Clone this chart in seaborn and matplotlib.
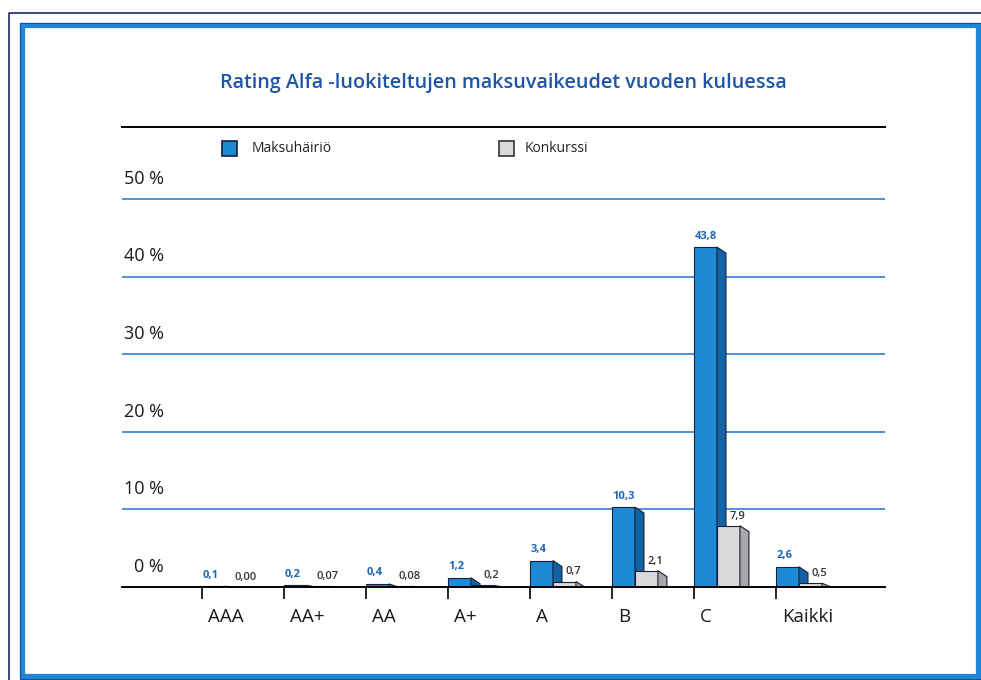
import numpy as np
import pandas as pd
import matplotlib
matplotlib.use("Agg")
import matplotlib.pyplot as plt
import matplotlib.transforms as mtransforms
from matplotlib.patches import Rectangle, Polygon
from matplotlib.lines import Line2D
import seaborn as sns

# ---------------- data ----------------
categories = ["AAA", "AA+", "AA", "A+", "A", "B", "C", "Kaikki"]
series = ["Maksuhäiriö", "Konkurssi"]
maksuhairio = [0.1, 0.2, 0.4, 1.2, 3.4, 10.3, 43.8, 2.6]
konkurssi = [0.00, 0.07, 0.08, 0.2, 0.7, 2.1, 7.9, 0.5]
konkurssi_labels = ["0,00", "0,07", "0,08", "0,2", "0,7", "2,1", "7,9", "0,5"]
yticks = [0, 10, 20, 30, 40, 50]
ytick_labels = ["0 %", "10 %", "20 %", "30 %", "40 %", "50 %"]
title = "Rating Alfa -luokiteltujen maksuvaikeudet vuoden kuluessa"

# ---------------- style ----------------
sns.set_theme(style="white")
plt.rcParams["font.family"] = ["Open Sans", "DejaVu Sans"]

BLUE = "#1e8ad6"
BLUE_SIDE = "#1462a6"
GREY = "#d9d9d9"
GREY_SIDE = "#a8a8a8"
EDGE = "#15203a"
GRID = "#2f7fcf"
TITLE_C = "#1d55a8"
VAL_BLUE = "#1f66b8"

W, H = 981, 680
fig = plt.figure(figsize=(W / 100, H / 100), dpi=100)
fig.patch.set_facecolor("white")

def fx(px):
    return px / W

def fy(py):
    return 1 - py / H

# axes: left 122px, right 885px, top 127px, bottom 587px
ax = fig.add_axes([fx(122), fy(587), (885 - 122) / W, (587 - 127) / H])
ax.set_facecolor("none")

df = pd.DataFrame({
    "Luokka": categories * 2,
    "Sarja": [series[0]] * len(categories) + [series[1]] * len(categories),
    "Osuus": maksuhairio + konkurssi,
})

bar_w = 0.56
sns.barplot(data=df, x="Luokka", y="Osuus", hue="Sarja", order=categories,
            hue_order=series, palette=[BLUE, GREY], width=bar_w, saturation=1,
            errorbar=None, edgecolor=EDGE, linewidth=0.8, legend=False, ax=ax)

px_per_unit = 82.0
px_per_pct = 7.76
xlim = ((122 - 202) / px_per_unit - bar_w / 2, (885 - 202) / px_per_unit - bar_w / 2)
ax.set_xlim(*xlim)
ax.set_ylim(0, (587 - 127) / px_per_pct)

dx = 9 / px_per_unit
dy = 6 / px_per_pct

side_cols = [BLUE_SIDE, GREY_SIDE]
for k, cont in enumerate(ax.containers):
    for p in cont.patches:
        p.set_zorder(2 + k)
        xr = p.get_x() + p.get_width()
        top = p.get_height()
        poly = Polygon([(xr, top), (xr + dx, max(top - dy, 0)), (xr + dx, 0), (xr, 0)],
                       closed=True, facecolor=side_cols[k], edgecolor=EDGE,
                       linewidth=0.8, zorder=2.5 + k)
        ax.add_patch(poly)

# value labels
blue_patches = ax.containers[0].patches
grey_patches = ax.containers[1].patches
for p, v in zip(blue_patches, maksuhairio):
    ax.annotate(f"{v:.1f}".replace(".", ","), (p.get_x(), p.get_height()),
                xytext=(0.5, 4), textcoords="offset points", ha="left", va="bottom",
                fontsize=8, fontweight="bold", color=VAL_BLUE, zorder=6)
for p, lab in zip(grey_patches, konkurssi_labels):
    ax.annotate(lab, (p.get_x() + p.get_width() - 0.03, p.get_height()),
                xytext=(0, 3), textcoords="offset points", ha="center", va="bottom",
                fontsize=8, fontweight="semibold", color="#333333", zorder=6)

# gridlines
for t in yticks[1:]:
    ax.axhline(t, color=GRID, linewidth=1.2, zorder=1)

# y labels above lines, right aligned at 164px
ytrans = mtransforms.blended_transform_factory(ax.transAxes, ax.transData)
for t, lab in zip(yticks, ytick_labels):
    ax.text((164 - 122) / (885 - 122), t, lab,
            transform=ytrans + mtransforms.ScaledTranslation(0, 8 / 72, fig.dpi_scale_trans),
            ha="right", va="bottom", fontsize=13, color="#1a1a1a")
ax.set_yticks([])
ax.set_ylabel("")
ax.set_xlabel("")

# x ticks at blue bar left edges
tick_pos = np.arange(len(categories)) - bar_w / 2
ax.set_xticks(tick_pos)
ax.set_xticklabels(categories)
ax.tick_params(axis="x", direction="out", length=8.5, width=1.2, color="black",
               pad=6.5, labelsize=13.5, bottom=True)
offset = mtransforms.ScaledTranslation(6 / 100, 0, fig.dpi_scale_trans)
for lab in ax.get_xticklabels():
    lab.set_horizontalalignment("left")
    lab.set_transform(lab.get_transform() + offset)
    lab.set_color("#1a1a1a")

for s in ["left", "right"]:
    ax.spines[s].set_visible(False)
for s in ["top", "bottom"]:
    ax.spines[s].set_visible(True)
    ax.spines[s].set_color("black")
    ax.spines[s].set_linewidth(1.4)
    ax.spines[s].set_zorder(5)

# title
fig.text(fx(503), fy(83), title, ha="center", va="center", fontsize=14.2,
         fontweight="semibold", color=TITLE_C)

# legend (manual)
fig.add_artist(Rectangle((fx(222), fy(156)), 15 / W, 15 / H, transform=fig.transFigure,
                         facecolor=BLUE, edgecolor=EDGE, linewidth=1.2))
fig.text(fx(252), fy(148), series[0], ha="left", va="center", fontsize=10, color="#222222")
fig.add_artist(Rectangle((fx(499), fy(156)), 15 / W, 15 / H, transform=fig.transFigure,
                         facecolor=GREY, edgecolor="#333333", linewidth=1.2))
fig.text(fx(525), fy(148), series[1], ha="left", va="center", fontsize=10, color="#222222")

# frames
fig.add_artist(Line2D([fx(9), fx(9), 1.0], [0.0, fy(13), fy(13)], transform=fig.transFigure,
                      color="#1a2a6e", linewidth=1.2))
fig.add_artist(Rectangle((fx(22), fy(676)), (978 - 22) / W, (676 - 25) / H,
                         transform=fig.transFigure, fill=False, edgecolor="#1f86d8",
                         linewidth=3.8))
fig.add_artist(Rectangle((fx(19.5), fy(678.5)), (980.5 - 19.5) / W, (678.5 - 22.5) / H,
                         transform=fig.transFigure, fill=False, edgecolor="#1a4f9a",
                         linewidth=0.8))

fig.savefig("out.png", dpi=100)
